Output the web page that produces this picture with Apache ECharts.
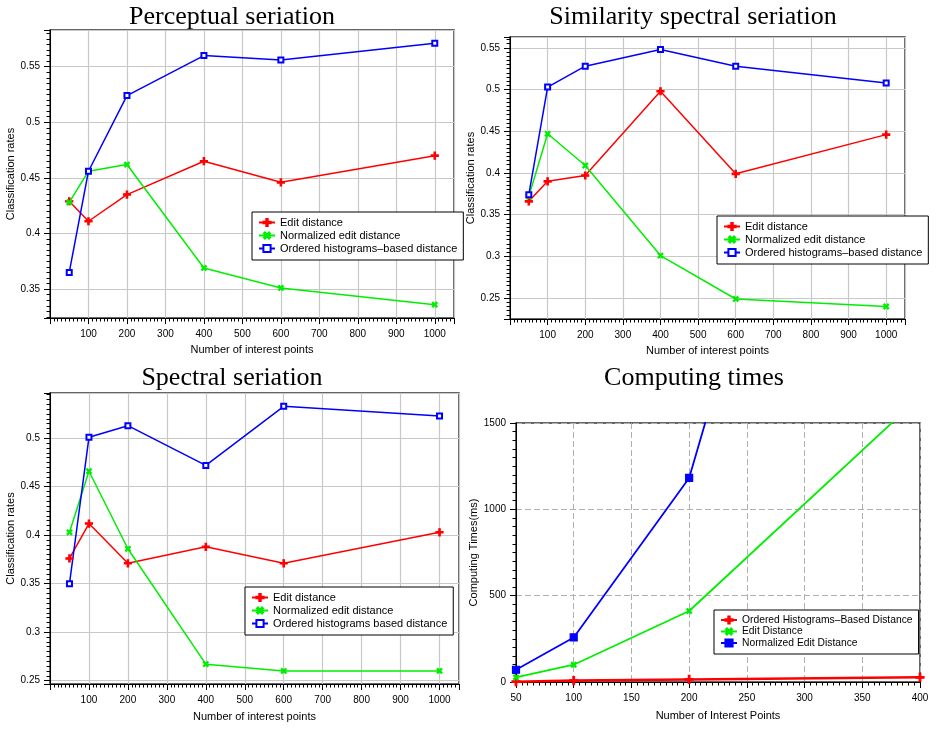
<!DOCTYPE html>
<html><head><meta charset="utf-8">
<script src="https://cdn.jsdelivr.net/npm/echarts@6/dist/echarts.min.js"></script>
<style>html,body{margin:0;padding:0;background:#fff}#c{width:937px;height:733px}</style>
</head><body><div id="c"></div><script>
// ---- data ----
const titles = ['Perceptual seriation', 'Similarity spectral seriation', 'Spectral seriation', 'Computing times'];
const xPoints = [50, 100, 200, 400, 600, 1000];
const perceptualEdit = [0.429, 0.411, 0.435, 0.465, 0.446, 0.470];
const perceptualNorm = [0.428, 0.456, 0.462, 0.369, 0.351, 0.336];
const perceptualHist = [0.365, 0.456, 0.524, 0.560, 0.556, 0.571];
const simSpecEdit = [0.366, 0.390, 0.397, 0.498, 0.399, 0.446];
const simSpecNorm = [0.372, 0.447, 0.409, 0.301, 0.249, 0.240];
const simSpecHist = [0.374, 0.503, 0.528, 0.548, 0.528, 0.508];
const specEdit = [0.376, 0.412, 0.371, 0.388, 0.371, 0.403];
const specNorm = [0.403, 0.466, 0.386, 0.267, 0.260, 0.260];
const specHist = [0.350, 0.501, 0.513, 0.472, 0.533, 0.523];
const timePoints = [50, 100, 200, 400];
const timeHist = [2, 8, 15, 27];
const timeEdit = [27, 100, 411, 1652];
const timeNorm = [71, 258, 1182, 5760];
const namesCls = ['Edit distance', 'Normalized edit distance', 'Ordered histograms\u2013based distance'];
const namesSpec = ['Edit distance', 'Normalized edit distance', 'Ordered histograms based distance'];
const namesTime = ['Ordered Histograms\u2013Based Distance', 'Edit Distance', 'Normalized Edit Distance'];

// ---- styling ----
const SANS = '"Liberation Sans", Arial, sans-serif';
const SERIF = '"Liberation Serif", "Times New Roman", serif';
const RED = '#ff0000', GREEN = '#00ee00', BLUE = '#0000ff';
const PLUS = 'path://M4,0H6V4H10V6H6V10H4V6H0V4H4Z';

function pairs(xs, ys) { return xs.map((x, i) => [x, ys[i]]); }
function line(gi, name, xs, ys, color, symbol, size, rotate, width) {
  return {
    type: 'line', name, xAxisIndex: gi, yAxisIndex: gi, data: pairs(xs, ys),
    symbol, symbolSize: size, symbolRotate: rotate, showAllSymbol: true,
    itemStyle: { color, borderColor: color, borderWidth: 1.2 },
    lineStyle: { color, width }, animation: false, clip: true, z: 3
  };
}
const gridLineSolid = { show: true, lineStyle: { color: '#c8c8c8', width: 1.2, type: 'solid' } };
const gridLineDash = { show: true, lineStyle: { color: '#b0b0b0', width: 1, type: [6, 3] } };
function fmt(v) { return String(Math.round(v * 10000) / 10000); }
function xAx(gi, min, max, interval, name, gap, split, hideEnds) {
  return {
    type: 'value', gridIndex: gi, min, max, interval, name, nameLocation: 'middle', nameGap: gap,
    nameTextStyle: { fontFamily: SANS, fontSize: 11, color: '#000' },
    axisLine: { show: true, onZero: false, lineStyle: { color: '#000', width: 1 } },
    axisTick: { show: true, inside: false, length: 6, lineStyle: { color: '#000', width: 1 } },
    minorTick: { show: true, splitNumber: 10, length: 3.5, lineStyle: { color: '#000', width: 1 } },
    minorSplitLine: { show: false },
    axisLabel: { fontFamily: SANS, fontSize: 10, color: '#000', margin: 11, formatter: fmt,
      showMinLabel: !hideEnds, showMaxLabel: !hideEnds, hideOverlap: false },
    splitLine: split
  };
}
function yAx(gi, min, max, interval, name, gap, split, hideEnds) {
  const a = xAx(gi, min, max, interval, name, gap, split, hideEnds);
  if (interval === undefined) { delete a.interval; a.splitNumber = 5; }
  a.axisLabel.margin = 10;
  return a;
}
function grid(left, top, width, height) {
  return { left, top, width, height, show: true, borderColor: '#333', borderWidth: 1.5, backgroundColor: 'transparent', containLabel: false, outerBoundsMode: 'none' };
}
function title(text, cx, top) {
  return { text, left: cx, top, textAlign: 'center', padding: 0,
    textStyle: { fontFamily: SERIF, fontSize: 26, fontWeight: 'normal', color: '#000' } };
}
function legend(names, left, top, fs, gap) {
  return {
    data: names, left, top, orient: 'vertical', selectedMode: false,
    backgroundColor: '#fff', borderColor: '#000', borderWidth: 1, padding: [5, 6, 6, 6],
    itemGap: gap, itemWidth: 16, itemHeight: 9, z: 10,
    textStyle: { fontFamily: SANS, fontSize: fs, color: '#000' }
  };
}

const option = {
  animation: false,
  backgroundColor: '#fff',
  title: [title(titles[0], 232, 4), title(titles[1], 693, 4), title(titles[2], 232, 365), title(titles[3], 694, 365)],
  grid: [grid(50, 30, 404, 288), grid(510, 37, 395, 282), grid(50, 393, 409, 291), grid(516, 423, 404, 259)],
  xAxis: [
    xAx(0, 0, 1050, 100, 'Number of interest points', 26, gridLineSolid, true),
    xAx(1, 0, 1050, 100, 'Number of interest points', 26, gridLineSolid, true),
    xAx(2, 0, 1050, 100, 'Number of interest points', 27, gridLineSolid, true),
    xAx(3, 50, 400, 50, 'Number of Interest Points', 28, gridLineDash, false)
  ],
  yAxis: [
    yAx(0, 0.324, 0.583, undefined, 'Classification rates', 33, gridLineSolid, true),
    yAx(1, 0.225, 0.563, undefined, 'Classification rates', 31, gridLineSolid, true),
    yAx(2, 0.2465, 0.5467, undefined, 'Classification rates', 33, gridLineSolid, true),
    yAx(3, 0, 1500, 500, 'Computing Times(ms)', 37, gridLineDash, false)
  ],
  legend: [legend(namesCls, 252, 212, 11, 1), legend(namesCls, 717, 216, 11, 1), legend(namesSpec, 245, 587, 11, 1), legend(namesTime, 714, 610, 10.3, 0)],
  series: [
    line(0, namesCls[0], xPoints, perceptualEdit, RED, PLUS, 7, 0, 1.5),
    line(0, namesCls[1], xPoints, perceptualNorm, GREEN, PLUS, 6, 45, 1.5),
    line(0, namesCls[2], xPoints, perceptualHist, BLUE, 'emptyRect', 5, 0, 1.5),
    line(1, namesCls[0], xPoints, simSpecEdit, RED, PLUS, 7, 0, 1.5),
    line(1, namesCls[1], xPoints, simSpecNorm, GREEN, PLUS, 6, 45, 1.5),
    line(1, namesCls[2], xPoints, simSpecHist, BLUE, 'emptyRect', 5, 0, 1.5),
    line(2, namesSpec[0], xPoints, specEdit, RED, PLUS, 7, 0, 1.5),
    line(2, namesSpec[1], xPoints, specNorm, GREEN, PLUS, 6, 45, 1.5),
    line(2, namesSpec[2], xPoints, specHist, BLUE, 'emptyRect', 5, 0, 1.5),
    line(3, namesTime[0], timePoints, timeHist, RED, PLUS, 8, 0, 2.5),
    line(3, namesTime[1], timePoints, timeEdit, GREEN, PLUS, 6, 45, 1.8),
    line(3, namesTime[2], timePoints, timeNorm, BLUE, 'rect', 7, 0, 1.8)
  ]
};
const chart = echarts.init(document.getElementById('c'), null, { renderer: 'canvas' });
chart.setOption(option);
</script></body></html>
